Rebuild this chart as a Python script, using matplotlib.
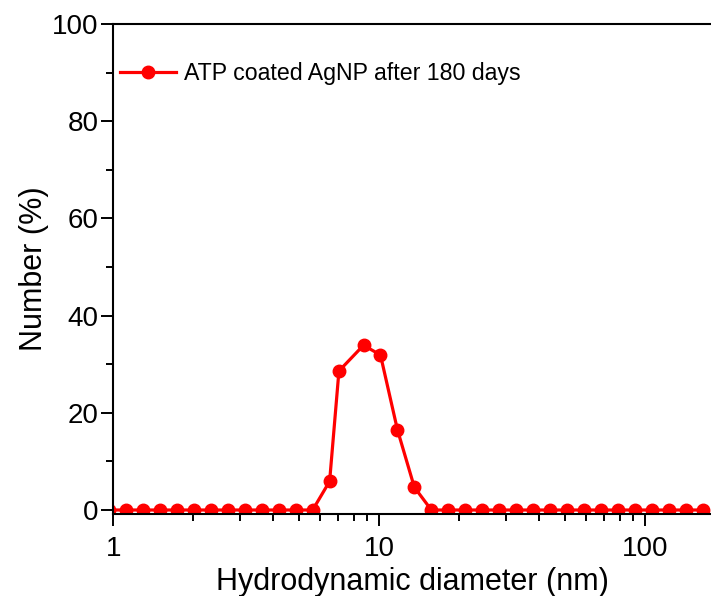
#!/usr/bin/env python3
"""
DLS number distribution of ATP coated AgNP after 180 days.
"""

import matplotlib
matplotlib.use('Agg')
import matplotlib.pyplot as plt
from matplotlib.ticker import LogLocator, FixedLocator, NullFormatter, FuncFormatter, MultipleLocator

plt.rcParams['font.family'] = ['Liberation Sans', 'DejaVu Sans']

# size bins (nm) and number distribution (%)
diameter_nm = [0.9649, 1.117, 1.294, 1.499, 1.736, 2.010, 2.328, 2.696, 3.122, 3.615,
               4.187, 4.849, 5.615, 6.503, 7.05, 8.721, 10.10, 11.70, 13.54, 15.69,
               18.17, 21.04, 24.36, 28.21, 32.67, 37.84, 43.82, 50.75, 58.77, 68.06,
               78.82, 91.28, 105.7, 122.4, 141.8, 164.2]
number_pct = [0, 0, 0, 0, 0, 0, 0, 0, 0, 0,
              0, 0, 0, 5.9, 28.6, 33.9, 31.9, 16.5, 4.7, 0,
              0, 0, 0, 0, 0, 0, 0, 0, 0, 0,
              0, 0, 0, 0, 0, 0]
series_label = 'ATP coated AgNP after 180 days'
x_ticks = [1, 10, 100]
y_ticks = [0, 20, 40, 60, 80, 100]

fig = plt.figure(figsize=(7.11, 5.96), dpi=100)
ax = fig.add_axes([0.1594, 0.1376, 0.8406, 0.8221])

ax.plot(diameter_nm, number_pct, color='#ff0000', linewidth=2.3,
        marker='o', markersize=9, label=series_label)

ax.set_xscale('log')
ax.set_xlim(1, 176.6)
ax.set_ylim(-0.82, 100)

ax.xaxis.set_major_locator(FixedLocator(x_ticks))
ax.xaxis.set_major_formatter(FuncFormatter(lambda v, p: f'{v:g}'))
ax.xaxis.set_minor_locator(LogLocator(base=10, subs=range(2, 10)))
ax.xaxis.set_minor_formatter(NullFormatter())
ax.yaxis.set_major_locator(FixedLocator(y_ticks))
ax.yaxis.set_minor_locator(MultipleLocator(10))

for side in ['left', 'bottom', 'top']:
    ax.spines[side].set_linewidth(1.5)
ax.spines['right'].set_visible(False)

ax.tick_params(which='both', direction='out', width=1.4, top=False, right=False,
               labelsize=20)
ax.tick_params(which='major', length=8.5)
ax.tick_params(which='minor', length=5)
ax.tick_params(axis='x', which='major', pad=7)
ax.tick_params(axis='y', which='major', pad=2)

ax.set_xlabel('Hydrodynamic diameter (nm)', fontsize=22, labelpad=4)
ax.set_ylabel('Number (%)', fontsize=22, labelpad=2)

ax.legend(loc='upper left', bbox_to_anchor=(120 / 711, (596 - 62) / 596),
          bbox_transform=fig.transFigure, frameon=False, fontsize=16.7,
          handlelength=2.4, handletextpad=0.35, borderpad=0, borderaxespad=0)

plt.savefig('out.png', dpi=100)
plt.close()
